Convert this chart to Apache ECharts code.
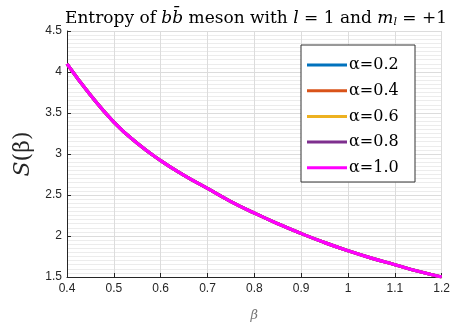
<!DOCTYPE html>
<html>
<head>
<meta charset="utf-8">
<script src="https://cdn.jsdelivr.net/npm/echarts@6/dist/echarts.min.js"></script>
<style>html,body{margin:0;padding:0;background:#fff;}#c{width:453px;height:327px;}</style>
</head>
<body>
<div id="c"></div>
<script>
var beta = [0.40,0.45,0.50,0.55,0.60,0.65,0.70,0.75,0.80,0.85,0.90,0.95,1.00,1.05,1.10,1.15,1.20];
var S_alpha02 = [4.10,3.72,3.39,3.13,2.92,2.74,2.58,2.42,2.28,2.15,2.03,1.92,1.82,1.73,1.65,1.57,1.50];
var S_alpha04 = [4.10,3.72,3.39,3.13,2.92,2.74,2.58,2.42,2.28,2.15,2.03,1.92,1.82,1.73,1.65,1.57,1.50];
var S_alpha06 = [4.10,3.72,3.39,3.13,2.92,2.74,2.58,2.42,2.28,2.15,2.03,1.92,1.82,1.73,1.65,1.57,1.50];
var S_alpha08 = [4.10,3.72,3.39,3.13,2.92,2.74,2.58,2.42,2.28,2.15,2.03,1.92,1.82,1.73,1.65,1.57,1.50];
var S_alpha10 = [4.10,3.72,3.39,3.13,2.92,2.74,2.58,2.42,2.28,2.15,2.03,1.92,1.82,1.73,1.65,1.57,1.50];
var seriesNames = ['α=0.2','α=0.4','α=0.6','α=0.8','α=1.0'];
var seriesColors = ['#0072BD','#D95319','#EDB120','#7E2F8E','#FF00FF'];
var seriesData = [S_alpha02,S_alpha04,S_alpha06,S_alpha08,S_alpha10];

var chart = echarts.init(document.getElementById('c'), null, {renderer:'canvas'});
var serif = '"DejaVu Serif", "Liberation Serif", serif';
var series = seriesNames.map(function(n,i){
  return {
    name:n, type:'line', smooth:true, showSymbol:false, symbol:'none',
    data: beta.map(function(b,j){return [b, seriesData[i][j]];}),
    lineStyle:{width:3.2,color:seriesColors[i]},
    itemStyle:{color:seriesColors[i]},
    z: 2+i
  };
});
chart.setOption({
  animation:false,
  backgroundColor:'#fff',
  title:{
    text:'Entropy of {i|b}{i|b\u0304} meson with {i|l} = 1 and {i|m}{sub|l} = +1',
    left:251, textAlign:'center', top:4,
    textStyle:{
      fontFamily:serif, fontSize:17, fontWeight:'normal', color:'#000',
      rich:{
        i:{fontFamily:serif, fontSize:17, fontStyle:'italic', color:'#000'},
        sub:{fontFamily:serif, fontSize:11, fontStyle:'italic', color:'#000', padding:[8,0,0,0]}
      }
    }
  },
  graphic:[{
    type:'rect', shape:{x:301, y:45, width:114, height:137},
    style:{fill:'#fff', stroke:'#333', lineWidth:1}, z:50
  }],
  grid:{left:67, right:11, top:31, bottom:42, containLabel:false},
  legend:{
    orient:'vertical', left:301, top:45, z:60,
    padding:[10,4,8,6],
    itemWidth:40, itemHeight:14, itemGap:5.7,
    data: seriesNames.map(function(n,i){return {name:n, icon:'path://M0,5.5 L40,5.5 L40,8.5 L0,8.5 Z'};}),
    textStyle:{fontFamily:serif, fontSize:16, color:'#000', padding:[0,0,0,-3], lineHeight:20}
  },
  xAxis:{
    type:'value', min:0.4, max:1.2, interval:0.1,
    name:'β', nameLocation:'middle', nameGap:32,
    nameTextStyle:{fontFamily:serif, fontStyle:'italic', fontSize:13, color:'#777'},
    axisLine:{show:true, onZero:false, lineStyle:{color:'#262626', width:1}},
    axisTick:{show:true, inside:true, length:4, lineStyle:{color:'#262626'}},
    axisLabel:{fontFamily:'"Liberation Sans", Arial, sans-serif', fontSize:12, color:'#262626', margin:6,
      formatter:function(v){return String(parseFloat(v.toFixed(1)));}},
    splitLine:{show:true, lineStyle:{color:'#dcdcdc', width:1}},
    minorTick:{show:false},
    minorSplitLine:{show:false}
  },
  yAxis:{
    type:'value', min:1.5, max:4.5, interval:0.5,
    name:'{i|S}(β)', nameLocation:'middle', nameGap:30, nameRotate:90,
    nameTextStyle:{fontFamily:serif, fontSize:22, color:'#262626',
      rich:{i:{fontFamily:serif, fontStyle:'italic', fontSize:22, color:'#262626'}}},
    axisLine:{show:true, lineStyle:{color:'#262626', width:1}},
    axisTick:{show:true, inside:true, length:4, lineStyle:{color:'#262626'}},
    axisLabel:{fontFamily:'"Liberation Sans", Arial, sans-serif', fontSize:12, color:'#262626', margin:5,
      formatter:function(v){return String(parseFloat(v.toFixed(1)));}},
    splitLine:{show:true, lineStyle:{color:'#dcdcdc', width:1}},
    minorTick:{show:false, splitNumber:10},
    minorSplitLine:{show:true, lineStyle:{color:'#ececec', width:1}}
  },
  series: series
});
</script>
</body>
</html>
